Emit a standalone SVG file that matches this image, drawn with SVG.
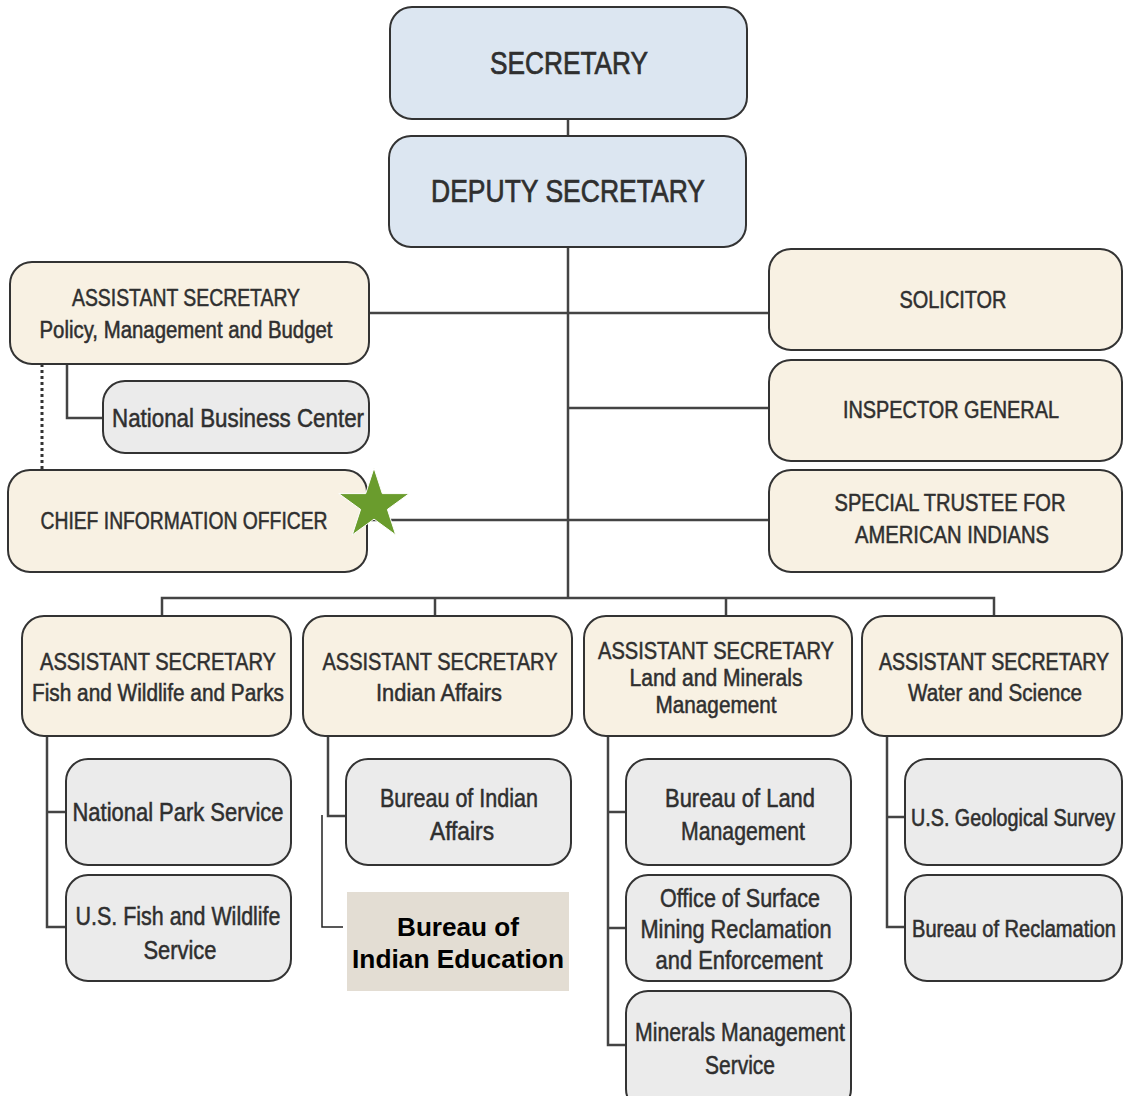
<svg xmlns="http://www.w3.org/2000/svg" width="1124" height="1096" viewBox="0 0 1124 1096">
<style>
.b{stroke:#333;stroke-width:2}
.blue{fill:#dce6f1}
.tan{fill:#f8f1e3}
.gray{fill:#ebebeb}
text{font-family:"Liberation Sans Narrow","Liberation Sans",Arial,sans-serif;fill:#2f2f2f;stroke:#2f2f2f;stroke-width:0.5;text-anchor:middle}
.t32{font-size:32px;stroke-width:0.7}
.t23{font-size:23px}
.t25{font-size:25px}
.t20{font-size:20px}
.t21{font-size:21px}
.bie{font-family:"Liberation Sans",Arial,sans-serif;font-weight:bold;font-size:26px;fill:#000;stroke:none}
.c{stroke:#444;stroke-width:2.5;fill:none}
</style>
<rect width="1124" height="1096" fill="#fff"/>
<g id="connectors">
<path class="c" d="M568 119V598"/>
<path class="c" d="M369 313H769M568 408H769M367 520H769"/>
<path class="c" d="M67 364V418H103"/>
<path d="M42 364V470" stroke="#333" stroke-width="3" stroke-dasharray="3 3" fill="none"/>
<path class="c" d="M162 616V598H994V616M435 598V616M726 598V616"/>
<path class="c" d="M47 736V927H66M47 812H66"/>
<path class="c" d="M328 736V816H346"/>
<path d="M322 815V927H343" stroke="#222" stroke-width="1.5" fill="none"/>
<path class="c" d="M608 736V1045H626M608 812H626M608 928H626"/>
<path class="c" d="M887 736V927H905M887 817H905"/>
</g>
<g id="secretary"><rect class="b blue" x="390" y="7" width="357" height="112" rx="22"/><text class="t32" x="569" y="74" textLength="158" lengthAdjust="spacingAndGlyphs">SECRETARY</text></g>
<g id="deputy"><rect class="b blue" x="389" y="136" width="357" height="111" rx="22"/><text class="t32" x="568" y="202" textLength="274" lengthAdjust="spacingAndGlyphs">DEPUTY SECRETARY</text></g>
<g id="pmb"><rect class="b tan" x="10" y="262" width="359" height="102" rx="22"/><text class="t23" x="186" y="306" textLength="228" lengthAdjust="spacingAndGlyphs">ASSISTANT SECRETARY</text><text class="t23" x="186" y="338" textLength="293" lengthAdjust="spacingAndGlyphs">Policy, Management and Budget</text></g>
<g id="nbc"><rect class="b gray" x="103" y="381" width="266" height="72" rx="22"/><text class="t25" x="238" y="427" textLength="252" lengthAdjust="spacingAndGlyphs">National Business Center</text></g>
<g id="cio"><rect class="b tan" x="8" y="470" width="359" height="102" rx="22"/><text class="t23" x="184" y="529" textLength="287" lengthAdjust="spacingAndGlyphs">CHIEF INFORMATION OFFICER</text></g>
<g id="star"><polygon points="374,468 382.3,493.6 409.2,493.6 387.4,509.4 395.7,534.9 374,519.1 352.3,534.9 360.6,509.4 338.8,493.6 365.7,493.6" fill="#6a9c2d" stroke="#fff" stroke-width="1"/></g>
<g id="solicitor"><rect class="b tan" x="769" y="249" width="353" height="101" rx="22"/><text class="t23" x="953" y="308" textLength="107" lengthAdjust="spacingAndGlyphs">SOLICITOR</text></g>
<g id="ig"><rect class="b tan" x="769" y="360" width="353" height="101" rx="22"/><text class="t23" x="951" y="418" textLength="216" lengthAdjust="spacingAndGlyphs">INSPECTOR GENERAL</text></g>
<g id="trustee"><rect class="b tan" x="769" y="470" width="353" height="102" rx="22"/><text class="t23" x="950" y="511" textLength="231" lengthAdjust="spacingAndGlyphs">SPECIAL TRUSTEE FOR</text><text class="t23" x="952" y="543" textLength="194" lengthAdjust="spacingAndGlyphs">AMERICAN INDIANS</text></g>
<g id="as-fwp"><rect class="b tan" x="22" y="616" width="269" height="120" rx="22"/><text class="t23" x="158" y="670" textLength="236" lengthAdjust="spacingAndGlyphs">ASSISTANT SECRETARY</text><text class="t23" x="158" y="701" textLength="252" lengthAdjust="spacingAndGlyphs">Fish and Wildlife and Parks</text></g>
<g id="as-ia"><rect class="b tan" x="303" y="616" width="269" height="120" rx="22"/><text class="t23" x="440" y="670" textLength="235" lengthAdjust="spacingAndGlyphs">ASSISTANT SECRETARY</text><text class="t23" x="439" y="701" textLength="126" lengthAdjust="spacingAndGlyphs">Indian Affairs</text></g>
<g id="as-lmm"><rect class="b tan" x="584" y="616" width="268" height="120" rx="22"/><text class="t23" x="716" y="659" textLength="236" lengthAdjust="spacingAndGlyphs">ASSISTANT SECRETARY</text><text class="t23" x="716" y="686" textLength="173" lengthAdjust="spacingAndGlyphs">Land and Minerals</text><text class="t23" x="716" y="713" textLength="121" lengthAdjust="spacingAndGlyphs">Management</text></g>
<g id="as-ws"><rect class="b tan" x="862" y="616" width="260" height="120" rx="22"/><text class="t20" transform="translate(994 670) scale(1 1.15)" x="0" y="0" textLength="230" lengthAdjust="spacingAndGlyphs">ASSISTANT SECRETARY</text><text class="t23" x="995" y="701" textLength="174" lengthAdjust="spacingAndGlyphs">Water and Science</text></g>
<g id="nps"><rect class="b gray" x="66" y="759" width="225" height="106" rx="22"/><text class="t25" x="178" y="821" textLength="211" lengthAdjust="spacingAndGlyphs">National Park Service</text></g>
<g id="usfws"><rect class="b gray" x="66" y="875" width="225" height="106" rx="22"/><text class="t25" x="178" y="925" textLength="205" lengthAdjust="spacingAndGlyphs">U.S. Fish and Wildlife</text><text class="t25" x="180" y="959" textLength="73" lengthAdjust="spacingAndGlyphs">Service</text></g>
<g id="bia"><rect class="b gray" x="346" y="759" width="225" height="106" rx="22"/><text class="t25" x="459" y="807" textLength="158" lengthAdjust="spacingAndGlyphs">Bureau of Indian</text><text class="t25" x="462" y="840" textLength="64" lengthAdjust="spacingAndGlyphs">Affairs</text></g>
<g id="bie"><rect x="347" y="892" width="222" height="99" fill="#e3ddd3"/><text class="bie" x="458" y="936" textLength="122" lengthAdjust="spacingAndGlyphs">Bureau of</text><text class="bie" x="458" y="968" textLength="212" lengthAdjust="spacingAndGlyphs">Indian Education</text></g>
<g id="blm"><rect class="b gray" x="626" y="759" width="225" height="106" rx="22"/><text class="t25" x="740" y="807" textLength="150" lengthAdjust="spacingAndGlyphs">Bureau of Land</text><text class="t25" x="743" y="840" textLength="124" lengthAdjust="spacingAndGlyphs">Management</text></g>
<g id="osm"><rect class="b gray" x="626" y="875" width="225" height="106" rx="22"/><text class="t25" x="740" y="907" textLength="160" lengthAdjust="spacingAndGlyphs">Office of Surface</text><text class="t25" x="736" y="938" textLength="191" lengthAdjust="spacingAndGlyphs">Mining Reclamation</text><text class="t25" x="739" y="969" textLength="167" lengthAdjust="spacingAndGlyphs">and Enforcement</text></g>
<g id="mms"><rect class="b gray" x="626" y="991" width="225" height="120" rx="22"/><text class="t25" x="740" y="1041" textLength="210" lengthAdjust="spacingAndGlyphs">Minerals Management</text><text class="t25" x="740" y="1074" textLength="70" lengthAdjust="spacingAndGlyphs">Service</text></g>
<g id="usgs"><rect class="b gray" x="905" y="759" width="217" height="106" rx="22"/><text class="t20" transform="translate(1013 826) scale(1 1.24)" x="0" y="0" textLength="204" lengthAdjust="spacingAndGlyphs">U.S. Geological Survey</text></g>
<g id="bor"><rect class="b gray" x="905" y="875" width="217" height="106" rx="22"/><text class="t21" transform="translate(1014 937) scale(1 1.18)" x="0" y="0" textLength="204" lengthAdjust="spacingAndGlyphs">Bureau of Reclamation</text></g>
</svg>
